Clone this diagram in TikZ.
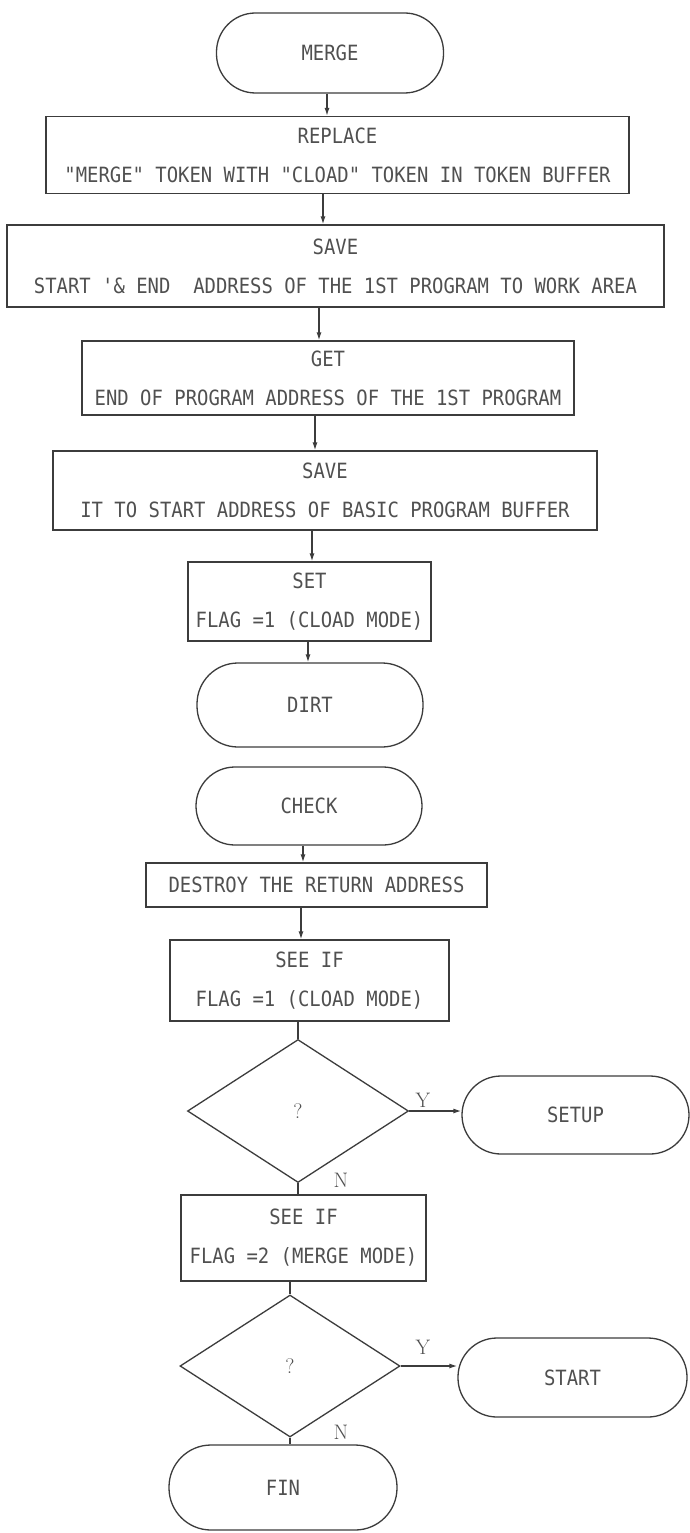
\documentclass[tikz,border=0pt]{standalone}
\usepackage{fontspec}
\usetikzlibrary{shapes.geometric,arrows.meta}
\newfontfamily\dotfont[FakeStretch=0.9]{DejaVu Sans Mono}
\definecolor{inkline}{HTML}{3C3C3C}
\definecolor{inktext}{HTML}{505050}
\tikzset{
  base/.style={draw=inkline, line width=1.3pt, text=inktext, inner sep=0pt,
    font={\dotfont\fontsize{21}{39}\selectfont}, align=center},
  procbox/.style={base, rectangle},
  term/.style={base, rectangle, rounded corners=39pt},
  decide/.style={base, diamond, font={\rmfamily\fontsize{21}{21}\selectfont}},
  conn/.style={draw=inkline, line width=1.3pt},
  arr/.style={conn, -{Latex[length=8pt,width=5pt]}},
  yn/.style={text=inktext, font={\rmfamily\fontsize{21}{21}\selectfont}, inner sep=0pt}
}
\begin{document}
\begin{tikzpicture}[x=1pt,y=-1pt]
\useasboundingbox (0,0) rectangle (690,1533);
\fill[white] (0,0) rectangle (690,1533);

\node[term, minimum width=227, minimum height=80] (merge) at (330,53) {MERGE};
\node[procbox, minimum width=583, minimum height=77] (replace) at (337.5,155)
  {REPLACE\\"MERGE" TOKEN WITH "CLOAD" TOKEN IN TOKEN BUFFER};
\node[procbox, minimum width=657, minimum height=82] (save1) at (335.5,266)
  {SAVE\\START '\& END\ \ ADDRESS OF THE 1ST PROGRAM TO WORK AREA};
\node[procbox, minimum width=492, minimum height=74] (get) at (328,378)
  {GET\\END OF PROGRAM ADDRESS OF THE 1ST PROGRAM};
\node[procbox, minimum width=544, minimum height=79] (save2) at (325,490.5)
  {SAVE\\IT TO START ADDRESS OF BASIC PROGRAM BUFFER};
\node[procbox, minimum width=243, minimum height=79] (set) at (309.5,601.5)
  {SET\\FLAG =1 (CLOAD MODE)};
\node[term, minimum width=226, minimum height=84, rounded corners=41pt] (dirt) at (310,705) {DIRT};
\node[term, minimum width=226, minimum height=78] (check) at (309,806) {CHECK};
\node[procbox, minimum width=341, minimum height=44] (destroy) at (316.5,885)
  {DESTROY THE RETURN ADDRESS};
\node[procbox, minimum width=279, minimum height=81] (seeif1) at (309.5,980.5)
  {SEE IF\\FLAG =1 (CLOAD MODE)};
\node[decide, minimum width=221, minimum height=143] (dia1) at (298,1111) {?};
\node[term, minimum width=227, minimum height=78] (setup) at (575.5,1115) {SETUP};
\node[procbox, minimum width=245, minimum height=86] (seeif2) at (303.5,1238)
  {SEE IF\\FLAG =2 (MERGE MODE)};
\node[decide, minimum width=220, minimum height=142] (dia2) at (290,1366) {?};
\node[term, minimum width=229, minimum height=79] (start) at (572.5,1377.5) {START};
\node[term, minimum width=228, minimum height=85, rounded corners=42pt] (fin) at (283,1487.5) {FIN};

\coordinate (x1) at (327,0);
\coordinate (x2) at (323,0);
\coordinate (x3) at (319,0);
\coordinate (x4) at (315,0);
\coordinate (x5) at (312,0);
\coordinate (x6) at (308,0);
\coordinate (x7) at (303,0);
\coordinate (x8) at (301,0);

\draw[arr] (x1 |- merge.south) -- (x1 |- replace.north);
\draw[arr] (x2 |- replace.south) -- (x2 |- save1.north);
\draw[arr] (x3 |- save1.south) -- (x3 |- get.north);
\draw[arr] (x4 |- get.south) -- (x4 |- save2.north);
\draw[arr] (x5 |- save2.south) -- (x5 |- set.north);
\draw[arr] (x6 |- set.south) -- (x6 |- dirt.north);
\draw[arr] (x7 |- check.south) -- (x7 |- destroy.north);
\draw[arr] (x8 |- destroy.south) -- (x8 |- seeif1.north);
\draw[conn] (dia1.north |- seeif1.south) -- (dia1.north);
\draw[arr] (dia1.east) -- (dia1.east -| setup.west);
\draw[conn] (dia1.south) -- (dia1.south |- seeif2.north);
\draw[conn] (dia2.north |- seeif2.south) -- (dia2.north);
\draw[arr] (dia2.east) -- (dia2.east -| start.west);
\draw[conn] (dia2.south) -- (dia2.south |- fin.north);

\node[yn] (y1) at (423,1100) {Y};
\node[yn] (n1) at (341,1180) {N};
\node[yn] (y2) at (423,1347) {Y};
\node[yn] (n2) at (341,1432) {N};
\end{tikzpicture}
\end{document}
